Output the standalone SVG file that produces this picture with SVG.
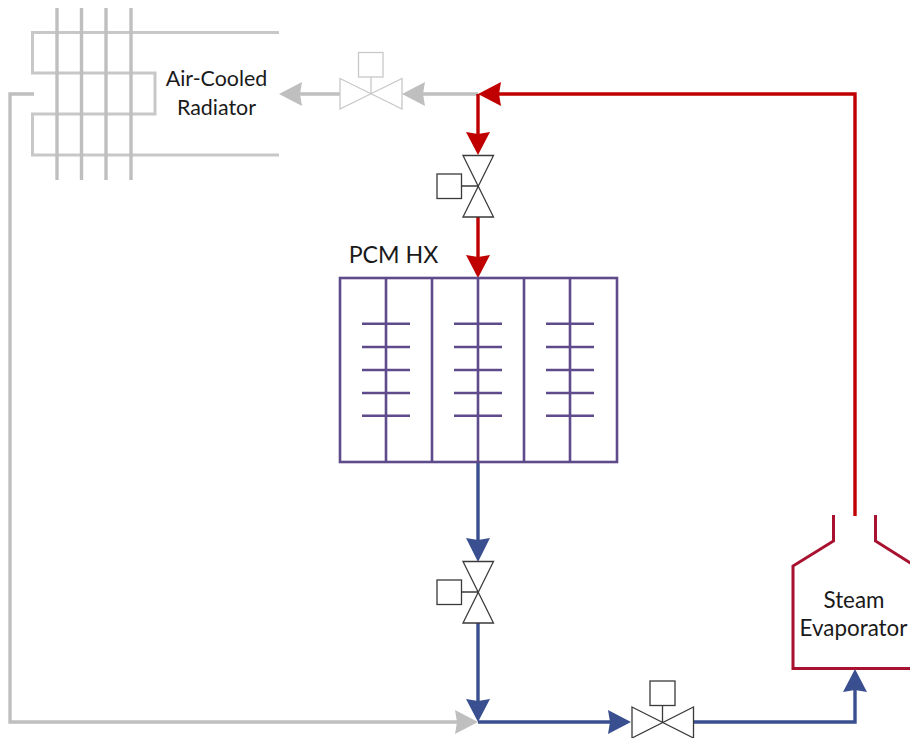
<svg xmlns="http://www.w3.org/2000/svg" width="910" height="738" viewBox="0 0 910 738">
<style>
.t{font-family:"Lato","Liberation Sans",sans-serif;font-size:21.4px;fill:#1a1a1a;text-anchor:middle}
.g{fill:none;stroke:#bfbfbf;stroke-width:3.4}
.r{fill:none;stroke:#c00000;stroke-width:3.4}
.b{fill:none;stroke:#3a4f8f;stroke-width:3.4}
.p{fill:none;stroke:#5f4b8b;stroke-width:2.6}
.v{fill:#fff;stroke:#3a3a3a;stroke-width:1.3}
.vg{fill:#fff;stroke:#c8c8c8;stroke-width:1.3}
.ag{fill:#bfbfbf}.ar{fill:#c00000}.ab{fill:#3a4f8f}
</style>
<rect width="910" height="738" fill="#fff"/>
<g id="connectors">
<path class="g" d="M34 94H10V722H458"/>
<path class="g" d="M300 94H340M423 94H478"/>
<path class="r" d="M499 94H855V516M478 94V134M478 217V257"/>
<path class="b" d="M478 462V540M478 623V701M478 722H610M693 722H855V690"/>
<polygon class="ag" points="279,94 302,82 300,94 302,106"/>
<polygon class="ag" points="402,94 425,82 423,94 425,106"/>
<polygon class="ag" points="478,722 455,710 457,722 455,734"/>
<polygon class="ar" points="478,94 501,82 499,94 501,106"/>
<polygon class="ar" points="478,155 466,132 478,134 490,132"/>
<polygon class="ar" points="478,278 466,255 478,257 490,255"/>
<polygon class="ab" points="478,562 466,538 478,540 490,538"/>
<polygon class="ab" points="478,722 466,699 478,701 490,699"/>
<polygon class="ab" points="631,722 608,710 610,722 608,734"/>
<polygon class="ab" points="855,669 843,692 855,690 867,692"/>
</g>
<g id="radiator">
<path fill="none" stroke="#c8c8c8" stroke-width="3" d="M279 32.500H32.500V73H155V114H32.500V155H279"/>
<path fill="none" stroke="#bfbfbf" stroke-width="3.400" d="M57 8V180M81.500 8V180M106 8V180M131 8V180"/>
<text class="t" x="216.500" y="86">Air-Cooled</text>
<text class="t" x="216.500" y="115">Radiator</text>
</g>
<g id="valve-radiator">
<rect class="vg" x="358.500" y="52.500" width="24.500" height="24.500"/>
<path class="vg" d="M340 78.500L402 109V78.500L340 109ZM371 77V94"/>
</g>
<g id="valve-pcm-in">
<rect class="v" x="437" y="174" width="24.500" height="24.500"/>
<path class="v" d="M463 155.500H493.500L463 217H493.500ZM461.500 186H478"/>
</g>
<g id="pcm-hx">
<rect class="p" x="340" y="278" width="277" height="184"/>
<path class="p" d="M386 278V462M432 278V462M478 278V462M524 278V462M570 278V462"/>
<path class="p" d="M362 323.700H410M362 347H410M362 370H410M362 393H410M362 415.700H410M454 323.700H502M454 347H502M454 370H502M454 393H502M454 415.700H502M546 323.700H594M546 347H594M546 370H594M546 393H594M546 415.700H594"/>
<text class="t" x="393.500" y="263" style="font-size:23.2px">PCM HX</text>
</g>
<g id="valve-pcm-out">
<rect class="v" x="437" y="580" width="24.500" height="24.500"/>
<path class="v" d="M463 561.500H493.500L463 623H493.500ZM461.500 592H478"/>
</g>
<g id="valve-evaporator">
<rect class="v" x="650" y="681" width="25" height="24.500"/>
<path class="v" d="M632 707L693.500 738V707L632 738ZM662.500 705.500V722"/>
</g>
<g id="steam-evaporator">
<path fill="none" stroke="#a8112f" stroke-width="3" d="M833.500 515V541L793 566V668.500H912M875.500 515V541L912 564"/>
<text class="t" x="854" y="608" style="font-size:22.400px">Steam</text>
<text class="t" x="853.500" y="636" style="font-size:22.400px">Evaporator</text>
</g>
</svg>
